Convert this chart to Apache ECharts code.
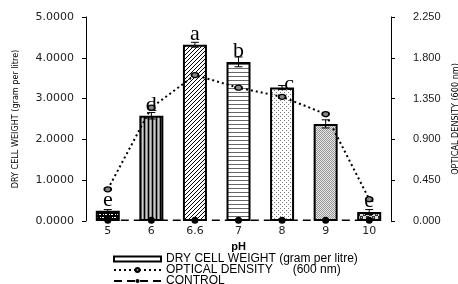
<!DOCTYPE html>
<html>
<head>
<meta charset="utf-8">
<script src="https://cdn.jsdelivr.net/npm/echarts@6/dist/echarts.min.js"></script>
<style>
  html, body { margin: 0; padding: 0; background: #fff; }
  #chart { width: 458px; height: 284px; }
</style>
</head>
<body>
<div id="chart"></div>
<script>
// pH 类别
var ph_list = ['5', '6', '6.6', '7', '8', '9', '10'];
// 干重 (g/L)
var dcw_list = [0.25, 2.58, 4.32, 3.90, 3.27, 2.38, 0.22];
var dcw_err = [0.03, 0.08, 0.06, 0.12, 0.05, 0.10, 0.06];
var dcw_letter = ['e', 'd', 'a', 'b', 'c', '', 'e'];
// OD 600nm
var od_list = [0.35, 1.25, 1.61, 1.47, 1.37, 1.18, 0.24];
// 对照
var control_list = [0.02, 0.02, 0.02, 0.02, 0.02, 0.02, 0.02];

var name_dcw = 'DRY CELL WEIGHT (gram per litre)';
var name_od = 'OPTICAL DENSITY      (600 nm)';
var name_ctrl = 'CONTROL';

// 填充图案
function makePattern(type) {
    var c = document.createElement('canvas');
    var s = 6;
    c.width = s; c.height = s;
    var g = c.getContext('2d');
    g.fillStyle = '#fff';
    g.fillRect(0, 0, s, s);
    g.fillStyle = '#000';
    if (type == 'check') {
        g.fillRect(0, 0, 6, 6);
        g.fillStyle = '#fff';
        g.fillRect(0, 1, 2, 1);
        g.fillRect(3, 4, 2, 1);
        g.fillRect(4, 1, 1, 1);
        g.fillRect(1, 4, 1, 1);
    } else if (type == 'vert') {
        c.width = 4; c.height = 4;
        g = c.getContext('2d');
        g.fillStyle = '#888'; g.fillRect(0, 0, 4, 4);
        g.fillStyle = '#000';
        g.fillRect(0, 0, 1, 4);
        g.fillStyle = '#ccc';
        g.fillRect(2, 0, 1, 4);
    } else if (type == 'diag') {
        c.width = 4; c.height = 4;
        g = c.getContext('2d');
        g.fillStyle = '#fff'; g.fillRect(0, 0, 4, 4);
        g.fillStyle = '#000';
        for (var i = 0; i < 4; i++) g.fillRect(3 - i, i, 1, 1);
    } else if (type == 'horiz') {
        c.width = 4; c.height = 4;
        g = c.getContext('2d');
        g.fillStyle = '#fff'; g.fillRect(0, 0, 4, 4);
        g.fillStyle = '#666';
        g.fillRect(0, 0, 4, 1);
    } else if (type == 'dot') {
        c.width = 4; c.height = 4;
        g = c.getContext('2d');
        g.fillStyle = '#fff'; g.fillRect(0, 0, 4, 4);
        g.fillStyle = '#777';
        g.fillRect(0, 0, 1, 1);
        g.fillRect(2, 2, 1, 1);
    } else if (type == 'dense') {
        c.width = 2; c.height = 2;
        g = c.getContext('2d');
        g.fillStyle = '#e4e4e4'; g.fillRect(0, 0, 2, 2);
        g.fillStyle = '#999';
        g.fillRect(0, 0, 1, 1);
        g.fillRect(1, 1, 1, 1);
    } else if (type == 'dot2') {
        g.fillStyle = '#ddd'; g.fillRect(0, 0, 6, 6);
        g.fillStyle = '#333';
        g.fillRect(0, 0, 3, 3);
        g.fillRect(3, 3, 3, 3);
        g.fillStyle = '#bbb';
        g.fillRect(1, 1, 1, 1);
        g.fillRect(4, 4, 1, 1);
    }
    return c;
}
var pattern_types = ['check', 'vert', 'diag', 'horiz', 'dot', 'dense', 'dot2'];

var bar_data = [];
for (var i = 0; i < dcw_list.length; i++) {
    var item = {
        value: dcw_list[i],
        itemStyle: { color: { image: makePattern(pattern_types[i]), repeat: 'repeat' } }
    };
    if (dcw_letter[i] == 'c') item.label = { offset: [7, 8] };
    bar_data.push(item);
}
var err_data = [];
for (var i = 0; i < dcw_list.length; i++) {
    err_data.push([i, dcw_list[i] - dcw_err[i], dcw_list[i] + dcw_err[i]]);
}

function oneLegend(name, top, extra) {
    var d = { name: name };
    if (extra) d.itemStyle = extra;
    if (extra) d.icon = 'rect';
    return {
        orient: 'vertical',
        left: 108,
        top: top,
        itemWidth: 47,
        itemHeight: 5,
        selectedMode: false,
        textStyle: { fontFamily: 'Liberation Sans', fontSize: 12, color: '#000' },
        data: [d]
    };
}

var myChart = echarts.init(document.getElementById('chart'));
var option = {
    animation: false,
    grid: { left: 86, right: 67, top: 17, bottom: 63, containLabel: false, outerBoundsMode: 'none' },
    legend: [
        oneLegend(name_dcw, 248, { color: '#fff', borderColor: '#000', borderWidth: 2 }),
        oneLegend(name_od, 259),
        oneLegend(name_ctrl, 270)
    ],
    xAxis: {
        type: 'category',
        data: ph_list,
        name: 'pH',
        nameLocation: 'middle',
        nameGap: 19,
        nameTextStyle: { fontFamily: 'Liberation Sans', fontWeight: 'bold', fontSize: 11, color: '#000' },
        axisLine: { show: false },
        axisTick: { show: false },
        axisLabel: { fontFamily: 'DejaVu Sans', fontSize: 11, color: '#222', margin: 5 }
    },
    yAxis: [{
        type: 'value',
        min: 0, max: 5, interval: 1,
        name: name_dcw,
        nameLocation: 'middle',
        nameGap: 66,
        nameTextStyle: { fontFamily: 'DejaVu Sans Condensed', fontSize: 9, color: '#000' },
        axisLine: { show: true, lineStyle: { color: '#000', width: 1 } },
        axisTick: { show: true, length: 4, lineStyle: { color: '#000' } },
        splitLine: { show: false },
        axisLabel: { fontFamily: 'DejaVu Sans', fontSize: 11, color: '#222', margin: 12,
            formatter: function (v) { return v.toFixed(4); } }
    }, {
        type: 'value',
        min: 0, max: 2.25, interval: 0.45,
        name: 'OPTICAL DENSITY (600 nm)',
        nameLocation: 'middle',
        nameGap: 60,
        nameRotate: 90,
        nameTextStyle: { fontFamily: 'DejaVu Sans Condensed', fontSize: 9, color: '#000' },
        axisLine: { show: true, lineStyle: { color: '#000', width: 1 } },
        axisTick: { show: true, length: 4, lineStyle: { color: '#000' } },
        splitLine: { show: false },
        axisLabel: { fontFamily: 'Liberation Sans', fontSize: 11, color: '#222', margin: 22,
            formatter: function (v) { return v.toFixed(3); } }
    }],
    series: [{
        name: name_dcw,
        type: 'bar',
        barWidth: 24,
        data: bar_data,
        itemStyle: { borderColor: '#000', borderWidth: 2 },
        label: {
            show: true,
            position: 'top',
            distance: 0,
            fontFamily: 'Liberation Serif',
            fontSize: 22,
            color: '#000',
            formatter: function (p) { return dcw_letter[p.dataIndex]; }
        },
        z: 2
    }, {
        name: 'err',
        type: 'custom',
        data: err_data,
        renderItem: function (params, api) {
            var x = api.coord([api.value(0), api.value(1)]);
            var top = api.coord([api.value(0), api.value(2)]);
            var style = { stroke: '#000', lineWidth: 1 };
            return {
                type: 'group',
                children: [
                    { type: 'line', shape: { x1: x[0], y1: x[1], x2: top[0], y2: top[1] }, style: style },
                    { type: 'line', shape: { x1: x[0] - 4, y1: top[1], x2: x[0] + 4, y2: top[1] }, style: style },
                    { type: 'line', shape: { x1: x[0] - 4, y1: x[1], x2: x[0] + 4, y2: x[1] }, style: style }
                ]
            };
        },
        z: 3
    }, {
        name: name_od,
        type: 'line',
        yAxisIndex: 1,
        data: od_list,
        symbol: 'circle',
        symbolSize: [7, 5],
        lineStyle: { color: '#000', width: 2, type: [2, 3] },
        itemStyle: { color: '#888', borderColor: '#000', borderWidth: 1.5 },
        z: 4
    }, {
        name: name_ctrl,
        type: 'line',
        data: control_list,
        symbol: 'circle',
        symbolSize: 7,
        lineStyle: { color: '#000', width: 1.5, type: [8, 5] },
        itemStyle: { color: '#000' },
        z: 4
    }]
};
myChart.setOption(option);
</script>
</body>
</html>
